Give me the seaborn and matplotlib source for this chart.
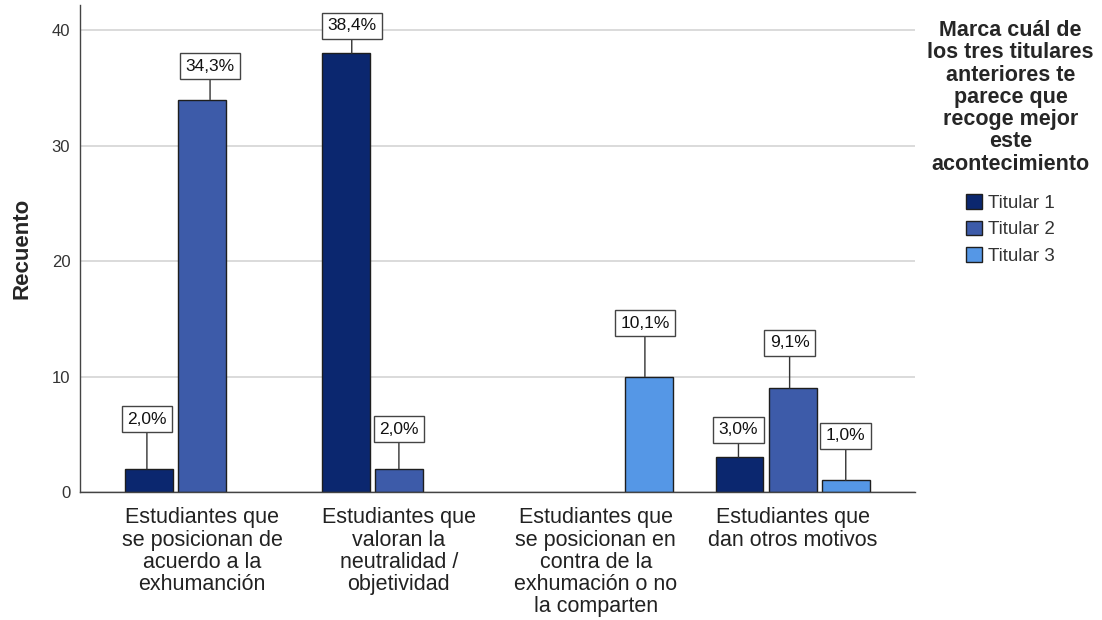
import seaborn as sns
import pandas as pd
import matplotlib.pyplot as plt

categorias = [
    "Estudiantes que\nse posicionan de\nacuerdo a la\nexhumanción",
    "Estudiantes que\nvaloran la\nneutralidad /\nobjetividad",
    "Estudiantes que\nse posicionan en\ncontra de la\nexhumación o no\nla comparten",
    "Estudiantes que\ndan otros motivos",
]
titulares = ["Titular 1", "Titular 2", "Titular 3"]
titular_1 = [2, 38, 0, 3]
titular_2 = [34, 2, 0, 9]
titular_3 = [0, 0, 10, 1]
colores = ["#0b276f", "#3d5ba9", "#5597e6"]

# desplazamiento de cada etiqueta (px) respecto a la parte superior de la barra
desplaz = {
    ("Titular 1", 0): (-2, 36), ("Titular 2", 0): (8, 20),
    ("Titular 1", 1): (6, 14), ("Titular 2", 1): (0, 26),
    ("Titular 3", 2): (-4, 40),
    ("Titular 1", 3): (-1, 14), ("Titular 2", 3): (-3, 32), ("Titular 3", 3): (0, 31),
}

filas = []
for t, vals in zip(titulares, [titular_1, titular_2, titular_3]):
    for c, v in zip(categorias, vals):
        if v > 0:
            filas.append({"Categoria": c, "Titular": t, "Recuento": v})
df = pd.DataFrame(filas)
total = df["Recuento"].sum()

sns.set_style("white")
plt.rcParams["font.family"] = ["Liberation Sans", "DejaVu Sans"]

fig = plt.figure(figsize=(11.02, 6.2), dpi=100)
ax = fig.add_axes([0.0726, 0.2065, 0.7574, 0.7855])

sns.barplot(data=df, x="Categoria", y="Recuento", hue="Titular",
            order=categorias, hue_order=titulares, palette=colores,
            width=0.81, gap=0.1, edgecolor="#1e1e1e", linewidth=1,
            saturation=1, legend=True, ax=ax)

ax.set_xlim(-0.62, 3.62)
ax.set_ylim(0, 42.2)
ax.set_yticks([0, 10, 20, 30, 40])
ax.yaxis.grid(True, color="#d4d4d4", linewidth=1.2)
ax.set_axisbelow(True)
for s in ["top", "right"]:
    ax.spines[s].set_visible(False)
for s in ["left", "bottom"]:
    ax.spines[s].set_color("#444444")
    ax.spines[s].set_linewidth(1)
ax.tick_params(axis="both", length=0)
ax.tick_params(axis="y", labelsize=12, labelcolor="#333333", pad=7)
ax.tick_params(axis="x", labelsize=15.5, labelcolor="#222222", pad=11)
for lab in ax.get_xticklabels():
    lab.set_linespacing(1.08)
ax.set_xlabel("")
ax.set_ylabel("Recuento", fontsize=16, fontweight="bold", labelpad=14)

for cont, t in zip(ax.containers, titulares):
    for bar in cont:
        h = bar.get_height()
        if not h or h != h:
            continue
        xc = bar.get_x() + bar.get_width() / 2
        ci = int(round(xc))
        dx, dy = desplaz.get((t, ci), (0, 20))
        pct = f"{h / total * 100:.1f}%".replace(".", ",")
        ax.annotate(pct, xy=(xc + dx / 196.7, h), xytext=(0, dy + 6),
                    textcoords="offset pixels", ha="center", va="bottom",
                    fontsize=12.5, color="#111111",
                    bbox=dict(boxstyle="square,pad=0.32", fc="white",
                              ec="#444444", lw=1),
                    arrowprops=dict(arrowstyle="-", color="#333333", lw=1,
                                    shrinkA=0, shrinkB=0))

handles, labels = ax.get_legend_handles_labels()
ax.get_legend().remove()
leg = fig.legend(handles, labels, loc="upper center",
                 bbox_to_anchor=(0.917, 0.995), frameon=False,
                 title="Marca cuál de\nlos tres titulares\nanteriores te\nparece que\nrecoge mejor\neste\nacontecimiento",
                 title_fontproperties={"weight": "bold", "size": 15.5},
                 fontsize=13.5, handlelength=0.85, handleheight=0.85,
                 handletextpad=0.3, labelspacing=0.45, alignment="center")
for txt in leg.get_texts():
    txt.set_color("#333333")
leg.get_title().set_multialignment("center")
leg.get_title().set_linespacing(1.08)
leg._legend_box.sep = 14

plt.savefig("out.png", dpi=100)
